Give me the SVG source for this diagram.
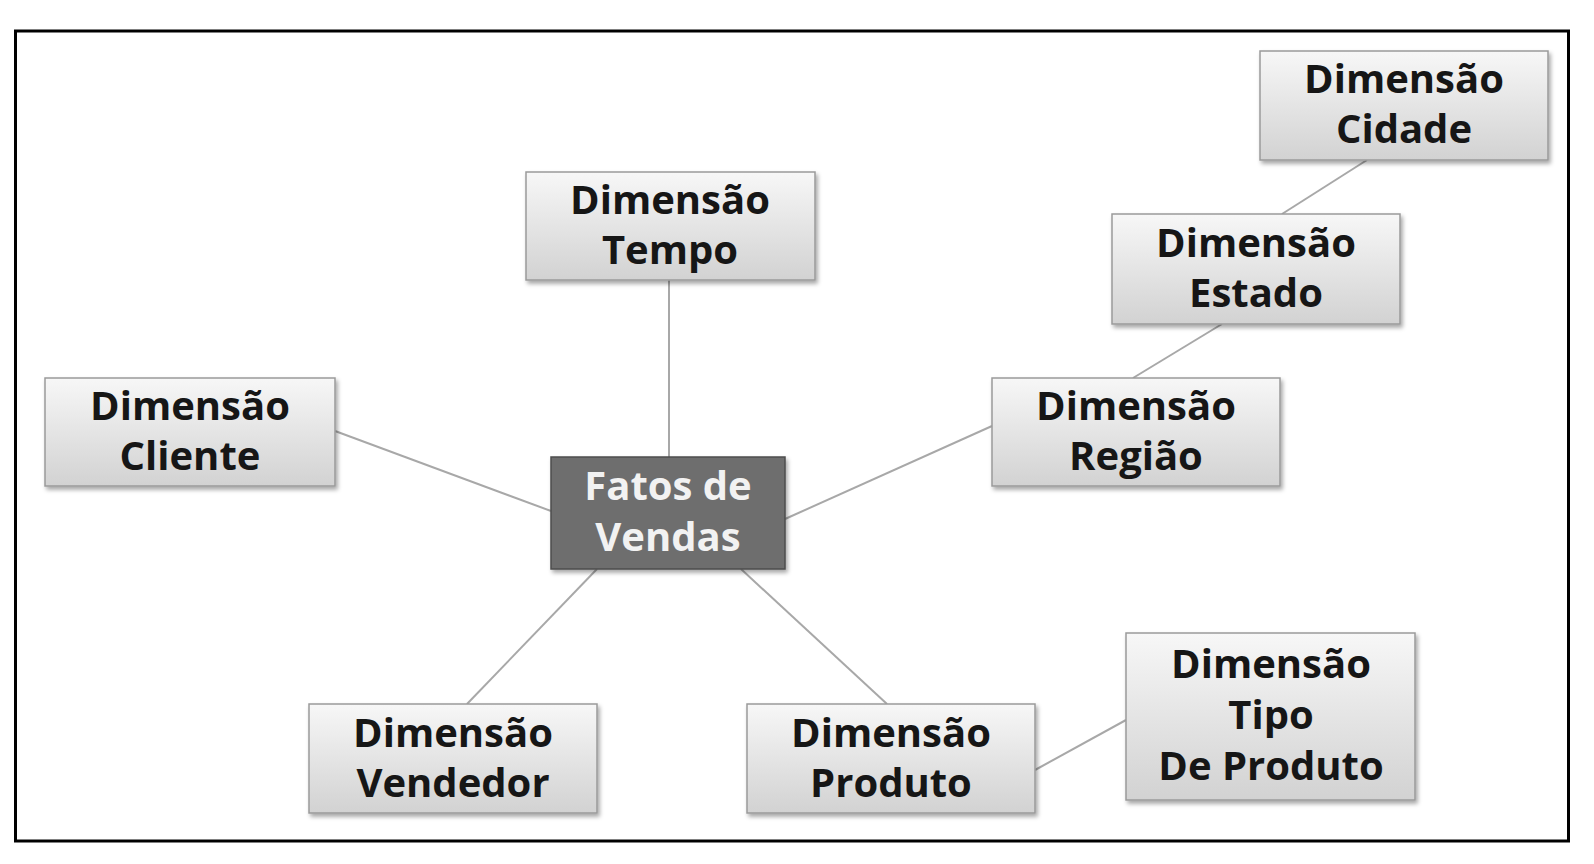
<svg xmlns="http://www.w3.org/2000/svg" width="1594" height="864" viewBox="0 0 1594 864">
<style>
.box{fill:url(#g);stroke:#9a9a9a;stroke-width:1.5;filter:url(#sh)}
.fact{fill:#6e6e6e;stroke:#4d4d4d;stroke-width:1.5;filter:url(#sh)}
.t{font-family:"Open Sans","Liberation Sans",sans-serif;font-weight:bold;font-size:40px;fill:#161616;text-anchor:middle}
.tw{fill:#f2f2f2}
.c{stroke:#a8a8a8;stroke-width:2;fill:none}
</style>
<defs>
<linearGradient id="g" x1="0" y1="0" x2="0" y2="1">
<stop offset="0" stop-color="#f7f7f7"/>
<stop offset="1" stop-color="#d2d2d2"/>
</linearGradient>
<filter id="sh" x="-10%" y="-10%" width="125%" height="130%">
<feDropShadow dx="2" dy="3" stdDeviation="2" flood-color="#000" flood-opacity="0.35"/>
</filter>
</defs>
<rect x="0" y="0" width="1594" height="864" fill="#fff"/>
<rect x="15.5" y="31" width="1553" height="810" fill="none" stroke="#000" stroke-width="3"/>
<g id="connectors">
<line class="c" x1="669" y1="280" x2="669" y2="457"/>
<line class="c" x1="335" y1="431" x2="551" y2="511"/>
<line class="c" x1="785" y1="519" x2="992" y2="426"/>
<line class="c" x1="597" y1="569" x2="467" y2="704"/>
<line class="c" x1="741" y1="569" x2="887" y2="704"/>
<line class="c" x1="1035" y1="770" x2="1126" y2="720"/>
<line class="c" x1="1133" y1="378" x2="1222" y2="324"/>
<line class="c" x1="1282" y1="214" x2="1367" y2="160"/>
</g>
<g id="tempo">
<rect class="box" x="526" y="172" width="289" height="108"/>
<text class="t" x="670" y="214">Dimensão</text>
<text class="t" x="670" y="264">Tempo</text>
</g>
<g id="cliente">
<rect class="box" x="45" y="378" width="290" height="108"/>
<text class="t" x="190" y="420">Dimensão</text>
<text class="t" x="190" y="470">Cliente</text>
</g>
<g id="fatos">
<rect class="fact" x="551" y="457" width="234" height="112"/>
<text class="t tw" x="668" y="500">Fatos de</text>
<text class="t tw" x="668" y="551">Vendas</text>
</g>
<g id="regiao">
<rect class="box" x="992" y="378" width="288" height="108"/>
<text class="t" x="1136" y="420">Dimensão</text>
<text class="t" x="1136" y="470">Região</text>
</g>
<g id="estado">
<rect class="box" x="1112" y="214" width="288" height="110"/>
<text class="t" x="1256" y="257">Dimensão</text>
<text class="t" x="1256" y="307">Estado</text>
</g>
<g id="cidade">
<rect class="box" x="1260" y="51" width="288" height="109"/>
<text class="t" x="1404" y="93">Dimensão</text>
<text class="t" x="1404" y="143">Cidade</text>
</g>
<g id="vendedor">
<rect class="box" x="309" y="704" width="288" height="109"/>
<text class="t" x="453" y="747">Dimensão</text>
<text class="t" x="453" y="797">Vendedor</text>
</g>
<g id="produto">
<rect class="box" x="747" y="704" width="288" height="109"/>
<text class="t" x="891" y="747">Dimensão</text>
<text class="t" x="891" y="797">Produto</text>
</g>
<g id="tipo">
<rect class="box" x="1126" y="633" width="289" height="167"/>
<text class="t" x="1271" y="678">Dimensão</text>
<text class="t" x="1271" y="729">Tipo</text>
<text class="t" x="1271" y="780">De Produto</text>
</g>
</svg>
